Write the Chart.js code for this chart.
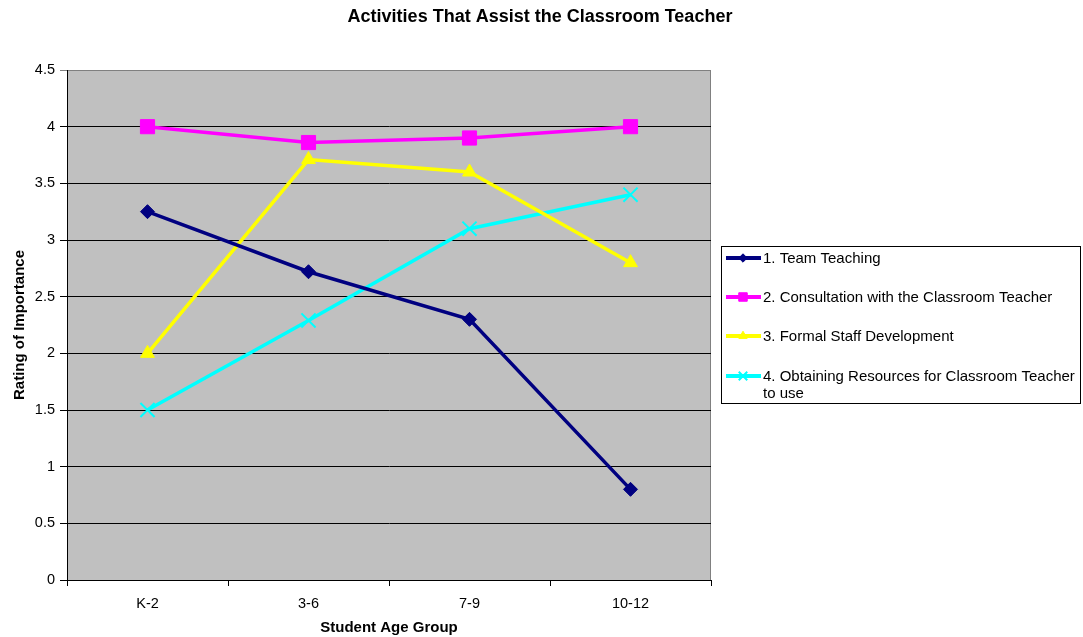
<!DOCTYPE html>
<html>
<head>
<meta charset="utf-8">
<script src="https://cdn.jsdelivr.net/npm/chart.js@4/dist/chart.umd.min.js"></script>
<style>
  html, body { margin: 0; padding: 0; background: #fff; }
  #wrap { width: 1083px; height: 637px; position: relative; }
</style>
</head>
<body>
<div id="wrap"><canvas id="chart" width="1083" height="637"></canvas></div>
<script>
// Categories and series values
const ageGroups = ['K-2', '3-6', '7-9', '10-12'];
const teamTeaching = [3.25, 2.72, 2.3, 0.8];
const consultation = [4.0, 3.86, 3.9, 4.0];
const staffDevelopment = [2.0, 3.71, 3.6, 2.8];
const obtainingResources = [1.5, 2.29, 3.1, 3.4];
const seriesNames = [
  '1. Team Teaching',
  '2. Consultation with the Classroom Teacher',
  '3. Formal Staff Development',
  ['4. Obtaining Resources for Classroom Teacher', 'to use']
];
const yTicks = [0, 0.5, 1, 1.5, 2, 2.5, 3, 3.5, 4, 4.5];

const FONT = 'Arial, "Liberation Sans", sans-serif';

// Grey plot area with its border, drawn before the grid
const plotBackground = {
  id: 'plotBackground',
  beforeDraw(chart) {
    const { ctx, chartArea: a } = chart;
    ctx.save();
    ctx.fillStyle = '#c0c0c0';
    ctx.fillRect(a.left, a.top, a.right - a.left, a.bottom - a.top);
    ctx.strokeStyle = '#808080';
    ctx.lineWidth = 1;
    ctx.strokeRect(a.left + 0.5, a.top + 0.5, a.right - a.left - 1, a.bottom - a.top);
    ctx.restore();
  }
};

// Title and boxed legend on the right
const extras = {
  id: 'extras',
  afterDraw(chart) {
    const ctx = chart.ctx;
    ctx.save();
    ctx.fillStyle = '#000';
    ctx.font = 'bold 18px ' + FONT;
    ctx.textAlign = 'center';
    ctx.textBaseline = 'middle';
    ctx.fillText('Activities That Assist the Classroom Teacher', 540, 17);

    // legend box
    ctx.strokeStyle = '#000';
    ctx.lineWidth = 1;
    ctx.strokeRect(721.5, 246.5, 359, 157);
    const rows = [258, 297, 336, 376];
    ctx.font = '15px ' + FONT;
    ctx.textAlign = 'left';
    chart.data.datasets.forEach((ds, i) => {
      const y = rows[i];
      ctx.strokeStyle = ds.borderColor;
      ctx.fillStyle = ds.borderColor;
      ctx.lineWidth = 4;
      ctx.beginPath();
      ctx.moveTo(726, y);
      ctx.lineTo(761, y);
      ctx.stroke();
      ctx.lineWidth = ds.pointBorderWidth;
      Chart.helpers.drawPoint(ctx, {
        pointStyle: ds.pointStyle,
        radius: ds.pointRadius * 0.6,
        borderWidth: ds.pointBorderWidth
      }, 743, y);
      ctx.fillStyle = '#000';
      const lines = Array.isArray(seriesNames[i]) ? seriesNames[i] : [seriesNames[i]];
      lines.forEach((t, k) => ctx.fillText(t, 763, y + 1 + k * 17));
    });
    ctx.restore();
  }
};

function series(label, data, color, style, radius, bw) {
  return {
    label: label,
    data: data,
    borderColor: color,
    backgroundColor: color,
    borderWidth: 3.5,
    pointStyle: style,
    pointRadius: radius,
    pointHoverRadius: radius,
    pointBorderColor: color,
    pointBackgroundColor: color,
    pointBorderWidth: bw,
    tension: 0,
    fill: false
  };
}

new Chart(document.getElementById('chart'), {
  type: 'line',
  data: {
    labels: ageGroups,
    datasets: [
      series(seriesNames[0], teamTeaching, '#000080', 'rectRot', 7, 1),
      series(seriesNames[1], consultation, '#ff00ff', 'rect', 10, 1),
      series(seriesNames[2], staffDevelopment, '#ffff00', 'triangle', 8, 1),
      series(seriesNames[3].join(' '), obtainingResources, '#00ffff', 'crossRot', 10, 2)
    ]
  },
  options: {
    responsive: false,
    animation: false,
    layout: { padding: { left: 0, right: 372, top: 70, bottom: 0 } },
    plugins: {
      legend: { display: false },
      title: { display: false },
      tooltip: { enabled: false }
    },
    scales: {
      x: {
        offset: true,
        afterFit(scale) { scale.height = 57; },
        grid: {
          offset: true,
          drawOnChartArea: false,
          drawTicks: true,
          tickLength: 6,
          color: '#000'
        },
        border: { color: '#000', width: 1 },
        ticks: { color: '#000', font: { family: FONT, size: 14.5 }, padding: 9, maxRotation: 0 },
        title: {
          display: true,
          text: 'Student Age Group',
          color: '#000',
          font: { family: FONT, size: 15, weight: 'bold' },
          padding: { top: 0, bottom: 0 }
        }
      },
      y: {
        min: 0,
        max: 4.5,
        afterFit(scale) { scale.width = 67; },
        afterBuildTicks(scale) { scale.ticks = yTicks.map(v => ({ value: v })); },
        grid: {
          color: ctx => (ctx.tick && ctx.tick.value === 4.5 ? '#808080' : '#000'),
          tickLength: 7,
          lineWidth: 1
        },
        border: { color: '#000', width: 1 },
        ticks: {
          color: '#000',
          font: { family: FONT, size: 14.5 },
          padding: 5,
          callback: v => String(v)
        },
        title: {
          display: true,
          text: 'Rating of Importance',
          color: '#000',
          font: { family: FONT, size: 15, weight: 'bold' },
          padding: { top: 11, bottom: 0 }
        }
      }
    }
  },
  plugins: [plotBackground, extras]
});
</script>
</body>
</html>
